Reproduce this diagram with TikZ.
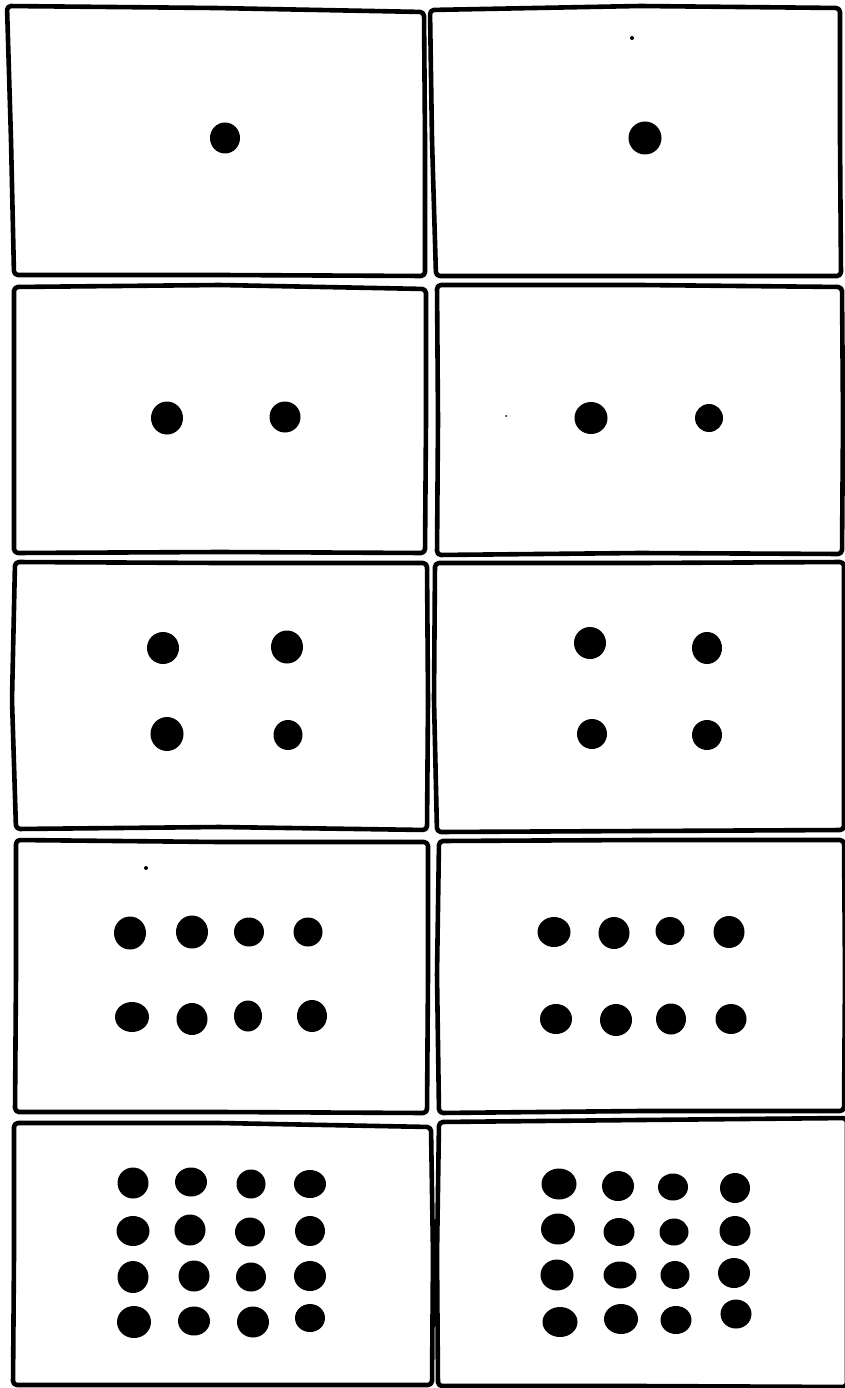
\documentclass[tikz,border=0pt]{standalone}
\begin{document}
\begin{tikzpicture}[x=1pt,y=-1pt,
  panel/.style={draw=black,line width=4.6pt,rounded corners=4pt,line join=round},
  blob/.style={fill=black},
  speck/.style={fill=black}]
\useasboundingbox[fill=white] (0,0) rectangle (845,1388);
% panels
\draw[panel] (7,6) -- (215,8) -- (424,12) -- (425,140) -- (425,276) -- (220,275) -- (14,275) -- (11,140) -- cycle;
\draw[panel] (430,10) -- (640,6) -- (840,8) -- (840,140) -- (841,276) -- (640,276) -- (436,276) -- (432,140) -- cycle;
\draw[panel] (14,287) -- (220,285) -- (426,289) -- (426,420) -- (425,553) -- (220,552) -- (14,553) -- (14,420) -- cycle;
\draw[panel] (437,285) -- (640,285) -- (842,287) -- (843,420) -- (842,554) -- (640,553) -- (437,555) -- (438,420) -- cycle;
\draw[panel] (15,562) -- (220,563) -- (427,563) -- (428,700) -- (427,830) -- (220,827) -- (16,829) -- (12,700) -- cycle;
\draw[panel] (435,563) -- (640,563) -- (844,562) -- (844,700) -- (844,830) -- (640,831) -- (437,832) -- (434,700) -- cycle;
\draw[panel] (16,840) -- (220,842) -- (428,842) -- (428,975) -- (427,1113) -- (220,1112) -- (15,1112) -- (16,975) -- cycle;
\draw[panel] (439,841) -- (640,840) -- (844,840) -- (845,975) -- (844,1111) -- (640,1111) -- (439,1113) -- (437,975) -- cycle;
\draw[panel] (14,1123) -- (220,1123) -- (431,1127) -- (433,1255) -- (432,1385) -- (220,1385) -- (13,1385) -- (14,1255) -- cycle;
\draw[panel] (439,1122) -- (640,1120) -- (847,1118) -- (847,1255) -- (847,1387) -- (640,1386) -- (438,1386) -- (437,1255) -- cycle;
% row 1
\fill[blob] (225,138) ellipse (15 and 15.5);
\fill[blob] (645,138) ellipse (16.5 and 16.5);
\fill[speck] (632,38) circle (2);
% row 2
\fill[blob] (167,418) ellipse (16 and 16.5);
\fill[blob] (285,417) ellipse (15.5 and 15.5);
\fill[blob] (591,418) ellipse (16.5 and 16);
\fill[blob] (709,418) ellipse (14 and 14);
\fill[speck] (506,416) circle (1);
% row 3
\fill[blob] (163,648) ellipse (16 and 16);
\fill[blob] (287,647) ellipse (16 and 16.5);
\fill[blob] (167,734) ellipse (16.5 and 17);
\fill[blob] (288,735) ellipse (14.5 and 15);
\fill[blob] (590,643) ellipse (16 and 16);
\fill[blob] (707,648) ellipse (15 and 16);
\fill[blob] (592,734) ellipse (15 and 15);
\fill[blob] (707,735) ellipse (15 and 15);
% row 4
\fill[speck] (146,868) circle (2);
\fill[blob] (130,933) ellipse (16 and 16.5);
\fill[blob] (192,932) ellipse (16 and 16.5);
\fill[blob] (249,932) ellipse (15 and 14.5);
\fill[blob] (308,932) ellipse (14.5 and 14.5);
\fill[blob] (132,1017) ellipse (17 and 15);
\fill[blob] (192,1019) ellipse (15.5 and 16);
\fill[blob] (248,1016) ellipse (14 and 15.5);
\fill[blob] (312,1016) ellipse (15 and 16);
\fill[blob] (554,932) ellipse (16.5 and 15);
\fill[blob] (614,933) ellipse (15.5 and 16);
\fill[blob] (670,931) ellipse (14.5 and 14);
\fill[blob] (729,932) ellipse (15.5 and 16);
\fill[blob] (556,1019) ellipse (16 and 15);
\fill[blob] (616,1020) ellipse (16 and 16);
\fill[blob] (671,1019) ellipse (15 and 15.5);
\fill[blob] (731,1019) ellipse (15.5 and 15);
% row 5 left
\fill[blob] (133,1183) ellipse (15.5 and 15.5);
\fill[blob] (191,1182) ellipse (16 and 14.5);
\fill[blob] (251,1184) ellipse (14.5 and 14.5);
\fill[blob] (310,1184) ellipse (16 and 14);
\fill[blob] (133,1231) ellipse (16.5 and 15);
\fill[blob] (190,1230) ellipse (15.5 and 15.5);
\fill[blob] (250,1232) ellipse (15 and 14.5);
\fill[blob] (310,1231) ellipse (15 and 15);
\fill[blob] (133,1277) ellipse (15.5 and 16);
\fill[blob] (194,1276) ellipse (15.5 and 15.5);
\fill[blob] (251,1277) ellipse (15 and 14.5);
\fill[blob] (310,1276) ellipse (16 and 15);
\fill[blob] (134,1322) ellipse (17 and 16);
\fill[blob] (194,1321) ellipse (16 and 14.5);
\fill[blob] (253,1322) ellipse (16 and 15.5);
\fill[blob] (310,1318) ellipse (15 and 14);
% row 5 right
\fill[blob] (559,1184) ellipse (17.5 and 15.5);
\fill[blob] (618,1186) ellipse (16 and 15);
\fill[blob] (673,1187) ellipse (15 and 13.5);
\fill[blob] (735,1188) ellipse (15 and 15);
\fill[blob] (558,1229) ellipse (17 and 15.5);
\fill[blob] (619,1232) ellipse (15.5 and 14);
\fill[blob] (674,1232) ellipse (14.5 and 13.5);
\fill[blob] (735,1231) ellipse (15.5 and 15);
\fill[blob] (557,1275) ellipse (16.5 and 15.5);
\fill[blob] (620,1275) ellipse (16.5 and 13.5);
\fill[blob] (675,1275) ellipse (14.5 and 14);
\fill[blob] (734,1273) ellipse (16 and 15);
\fill[blob] (560,1322) ellipse (17.5 and 15);
\fill[blob] (621,1319) ellipse (17 and 15);
\fill[blob] (676,1320) ellipse (15.5 and 14);
\fill[blob] (736,1314) ellipse (15.5 and 14.5);
\end{tikzpicture}
\end{document}
